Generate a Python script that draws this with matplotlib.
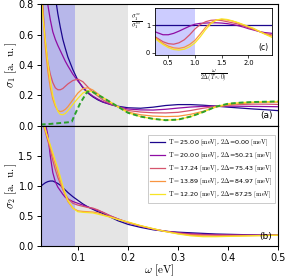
import numpy as np
import matplotlib
matplotlib.use("Agg")
import matplotlib.pyplot as plt

plt.rcParams['mathtext.fontset'] = 'cm'

# ---------------- data ----------------
omega = [0.026, 0.03, 0.035, 0.04, 0.045, 0.05, 0.055, 0.06, 0.065, 0.07, 0.075, 0.08,
         0.09, 0.1, 0.11, 0.12, 0.13, 0.14, 0.15, 0.165, 0.18, 0.2, 0.225, 0.25, 0.275,
         0.3, 0.325, 0.35, 0.375, 0.4, 0.425, 0.45, 0.475, 0.5]

temps = [25.00, 20.00, 17.24, 13.89, 12.20]
gaps = [0.00, 50.21, 75.43, 84.97, 87.25]

sigma1_T25 = [2.13, 1.86, 1.58, 1.34, 1.14, 0.98, 0.85, 0.74, 0.65, 0.57, 0.51, 0.454,
              0.37, 0.30, 0.25, 0.215, 0.19, 0.17, 0.155, 0.14, 0.128, 0.118, 0.115, 0.122, 0.133,
              0.139, 0.139, 0.135, 0.129, 0.122, 0.116, 0.11, 0.105, 0.099]
sigma1_T20 = [1.5, 1.2, 0.95, 0.8, 0.7, 0.62, 0.57, 0.53, 0.495, 0.46, 0.425, 0.395,
              0.34, 0.295, 0.255, 0.22, 0.195, 0.175, 0.158, 0.14, 0.125, 0.11, 0.104, 0.103, 0.108,
              0.116, 0.123, 0.127, 0.129, 0.129, 0.128, 0.127, 0.126, 0.125]
sigma1_T17 = [1.2, 0.8, 0.56, 0.42, 0.34, 0.285, 0.25, 0.237, 0.237, 0.245, 0.26, 0.275,
              0.298, 0.307, 0.29, 0.255, 0.22, 0.195, 0.17, 0.145, 0.125, 0.1, 0.09, 0.085, 0.084,
              0.088, 0.1, 0.115, 0.127, 0.135, 0.14, 0.142, 0.142, 0.14]
sigma1_T14 = [1.05, 0.76, 0.52, 0.36, 0.25, 0.175, 0.128, 0.1, 0.093, 0.097, 0.108, 0.125,
              0.17, 0.215, 0.245, 0.25, 0.235, 0.21, 0.185, 0.155, 0.125, 0.09, 0.072, 0.063, 0.06,
              0.062, 0.075, 0.095, 0.122, 0.137, 0.146, 0.152, 0.155, 0.155]
sigma1_T12 = [0.95, 0.73, 0.57, 0.42, 0.3, 0.2, 0.14, 0.095, 0.074, 0.072, 0.08, 0.098,
              0.14, 0.18, 0.215, 0.232, 0.222, 0.203, 0.185, 0.155, 0.125, 0.085, 0.06, 0.045, 0.036,
              0.04, 0.06, 0.09, 0.125, 0.145, 0.152, 0.156, 0.158, 0.16]

omega_mb = [0.026, 0.04, 0.06, 0.08, 0.088, 0.095, 0.105, 0.119, 0.13, 0.14, 0.15, 0.165,
            0.18, 0.2, 0.225, 0.25, 0.275, 0.3, 0.325, 0.35, 0.375, 0.4, 0.425, 0.45, 0.475, 0.5]
sigma1_mb = [0.008, 0.01, 0.016, 0.022, 0.027, 0.08, 0.15, 0.225, 0.222, 0.203, 0.185, 0.155,
             0.125, 0.085, 0.06, 0.045, 0.036, 0.04, 0.06, 0.09, 0.125, 0.145, 0.152, 0.156, 0.158, 0.16]

sigma2_T25 = [0.99, 1.02, 1.05, 1.07, 1.08, 1.08, 1.06, 1.04, 1.01, 0.97, 0.93, 0.89,
              0.82, 0.76, 0.70, 0.65, 0.61, 0.57, 0.54, 0.48, 0.42, 0.36, 0.31, 0.27, 0.245,
              0.23, 0.22, 0.21, 0.20, 0.195, 0.19, 0.185, 0.182, 0.18]
sigma2_T20 = [2.6, 2.3, 2.05, 1.85, 1.5, 1.22, 1.07, 0.98, 0.92, 0.86, 0.81, 0.78,
              0.74, 0.71, 0.68, 0.65, 0.62, 0.59, 0.56, 0.50, 0.45, 0.39, 0.33, 0.28, 0.245,
              0.22, 0.205, 0.195, 0.19, 0.185, 0.183, 0.182, 0.18, 0.18]
sigma2_T17 = [2.3, 2.05, 1.9, 1.75, 1.6, 1.42, 1.27, 1.14, 1.04, 0.94, 0.86, 0.79,
              0.71, 0.68, 0.66, 0.64, 0.63, 0.60, 0.56, 0.50, 0.45, 0.39, 0.335, 0.285, 0.245,
              0.215, 0.195, 0.185, 0.18, 0.178, 0.177, 0.177, 0.178, 0.18]
sigma2_T14 = [2.5, 2.2, 1.95, 1.8, 1.65, 1.5, 1.36, 1.22, 1.08, 0.95, 0.84, 0.74,
              0.63, 0.585, 0.575, 0.57, 0.565, 0.55, 0.52, 0.48, 0.445, 0.395, 0.335, 0.285, 0.24,
              0.205, 0.18, 0.168, 0.165, 0.168, 0.17, 0.173, 0.176, 0.18]
sigma2_T12 = [2.4, 2.1, 1.93, 1.8, 1.68, 1.55, 1.42, 1.3, 1.15, 1.0, 0.87, 0.76,
              0.63, 0.57, 0.56, 0.555, 0.55, 0.53, 0.51, 0.48, 0.44, 0.40, 0.34, 0.29, 0.24,
              0.20, 0.17, 0.155, 0.155, 0.16, 0.165, 0.17, 0.175, 0.18]

x_ratio = [0.25, 0.3, 0.4, 0.5, 0.6, 0.7, 0.8, 0.9, 1.0, 1.1, 1.2, 1.3, 1.4, 1.5,
           1.6, 1.7, 1.8, 1.9, 2.0, 2.1, 2.2, 2.3, 2.45]
ratio_T25 = [1.0] * 23
ratio_T20 = [0.76, 0.72, 0.65, 0.65, 0.7, 0.78, 0.87, 0.96, 1.03, 1.06, 1.07, 1.08, 1.08, 1.07,
             1.05, 1.02, 0.98, 0.93, 0.87, 0.82, 0.77, 0.73, 0.7]
ratio_T17 = [0.58, 0.52, 0.4, 0.33, 0.31, 0.36, 0.47, 0.65, 0.86, 1.02, 1.12, 1.17, 1.18, 1.16,
             1.12, 1.08, 1.04, 0.97, 0.9, 0.84, 0.77, 0.7, 0.64]
ratio_T14 = [0.55, 0.48, 0.34, 0.24, 0.18, 0.16, 0.2, 0.3, 0.45, 0.68, 0.92, 1.09, 1.18, 1.2,
             1.18, 1.14, 1.08, 1.01, 0.94, 0.86, 0.77, 0.69, 0.6]
ratio_T12 = [0.52, 0.44, 0.3, 0.19, 0.12, 0.1, 0.13, 0.22, 0.36, 0.58, 0.84, 1.05, 1.18, 1.22,
             1.2, 1.15, 1.09, 1.02, 0.95, 0.88, 0.78, 0.68, 0.55]

gap_edge = 0.095
gray_edge = 0.2

sigma1_all = [sigma1_T25, sigma1_T20, sigma1_T17, sigma1_T14, sigma1_T12]
sigma2_all = [sigma2_T25, sigma2_T20, sigma2_T17, sigma2_T14, sigma2_T12]
ratio_all = [ratio_T25, ratio_T20, ratio_T17, ratio_T14, ratio_T12]

colors = [plt.cm.plasma(v) for v in [0.02, 0.3, 0.55, 0.75, 0.95]]

# ---------------- figure ----------------
fig = plt.figure(figsize=(2.87, 2.78), dpi=100)
ax1 = fig.add_axes([0.142, 0.548, 0.828, 0.436])
ax2 = fig.add_axes([0.142, 0.115, 0.828, 0.433], sharex=ax1)

for ax in (ax1, ax2):
    ax.axvspan(0, gray_edge, color='gray', alpha=0.2, lw=0)
    ax.axvspan(0, gap_edge, color='blue', alpha=0.2, lw=0)

labels = [r'$\mathrm{T}=$%.2f $\mathrm{[meV]}$, $2\Delta$=%.2f $\mathrm{[meV]}$' % (t, g)
          for t, g in zip(temps, gaps)]

for s1, s2, c, lab in zip(sigma1_all, sigma2_all, colors, labels):
    ax1.plot(omega, s1, color=c, lw=0.9)
    ax2.plot(omega, s2, color=c, lw=0.9, label=lab)

ax1.plot(omega_mb, sigma1_mb, color='#2ca02c', lw=1.4, ls=(0, (2.5, 1.5)))
ax1.axhline(0, color='k', lw=0.8)

ax1.set_xlim(0.026, 0.5)
ax1.set_ylim(0, 0.8)
ax1.set_yticks([0.0, 0.2, 0.4, 0.6, 0.8])
ax2.set_ylim(0, 2.0)
ax2.set_yticks([0.0, 0.5, 1.0, 1.5])
ax2.set_xticks([0.1, 0.2, 0.3, 0.4, 0.5])
plt.setp(ax1.get_xticklabels(), visible=False)

for ax in (ax1, ax2):
    ax.tick_params(labelsize=7, length=3, width=0.7, pad=2)

ax1.set_ylabel(r'$\sigma_1\ \mathrm{[a.\ u.]}$', fontsize=8)
ax2.set_ylabel(r'$\sigma_2\ \mathrm{[a.\ u.]}$', fontsize=8)
ax1.yaxis.set_label_coords(-0.092, 0.5)
ax2.yaxis.set_label_coords(-0.092, 0.5)
ax2.set_xlabel(r'$\omega\ \mathrm{[eV]}$', fontsize=8)
ax2.xaxis.set_label_coords(0.5, -0.135)

ax1.text(0.975, 0.05, '(a)', transform=ax1.transAxes, ha='right', va='bottom', fontsize=6.5)
ax2.text(0.975, 0.04, '(b)', transform=ax2.transAxes, ha='right', va='bottom', fontsize=6.5)

leg = ax2.legend(loc='upper right', fontsize=4.6, handlelength=2.2, labelspacing=0.45,
                 borderpad=0.4, handletextpad=0.6, frameon=True, fancybox=False, edgecolor='0.7',
                 bbox_to_anchor=(1.0, 0.95))
leg.get_frame().set_linewidth(0.6)

# ---------------- inset ----------------
axi = fig.add_axes([0.540, 0.802, 0.409, 0.168])
axi.set_facecolor('white')
axi.axvspan(0, 1.0, color='blue', alpha=0.2, lw=0)
for r, c in zip(ratio_all, colors):
    axi.plot(x_ratio, r, color=c, lw=0.9)
axi.set_xlim(0.25, 2.45)
axi.set_ylim(-0.08, 1.6)
axi.set_xticks([0.5, 1.0, 1.5, 2.0])
axi.set_yticks([0, 1])
axi.tick_params(labelsize=4.8, length=2, width=0.5, pad=1.5)
axi.set_xlabel(r'$\frac{\omega}{2\Delta(T\approx0)}$', fontsize=6, labelpad=1)
axi.set_ylabel(r'$\frac{\sigma_1^{sc}}{\sigma_1^{ns}}$', fontsize=6.5, rotation=0,
               ha='center', va='center')
axi.yaxis.set_label_coords(-0.16, 0.72)
axi.text(0.97, 0.06, '(c)', transform=axi.transAxes, ha='right', va='bottom', fontsize=5.5)
for sp in axi.spines.values():
    sp.set_linewidth(0.6)

fig.savefig('out.png', dpi=100)
